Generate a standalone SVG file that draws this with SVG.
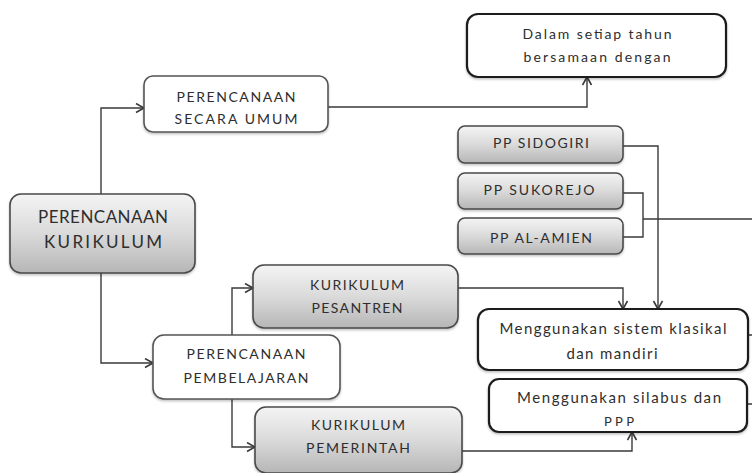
<svg xmlns="http://www.w3.org/2000/svg" width="752" height="473" viewBox="0 0 752 473">
<defs>
<linearGradient id="gray" x1="0" y1="0" x2="0" y2="1">
<stop offset="0" stop-color="#f4f4f4"/>
<stop offset="0.5" stop-color="#dadada"/>
<stop offset="1" stop-color="#b6b6b6"/>
</linearGradient>
<filter id="sh" x="-10%" y="-10%" width="120%" height="130%">
<feDropShadow dx="0" dy="1.5" stdDeviation="1.2" flood-color="#000" flood-opacity="0.25"/>
</filter>
<marker id="arr" markerUnits="userSpaceOnUse" markerWidth="12" markerHeight="12" refX="9" refY="5" orient="auto">
<path d="M1,0.5 L9,5 L1,9.5" fill="none" stroke="#3a3a3a" stroke-width="1.6"/>
</marker>
<clipPath id="clipPPP"><rect x="489" y="379" width="258" height="47"/></clipPath>
</defs>
<style>
.g{fill:url(#gray);stroke:#4a4a4a;stroke-width:1.6;filter:url(#sh)}
.w{fill:#fff;stroke:#555;stroke-width:1.6;filter:url(#sh)}
.wd{fill:#fff;stroke:#1e1e1e;stroke-width:2.2;filter:url(#sh)}
text{font-family:Lato,"Liberation Sans",Arial,sans-serif;fill:#2e2e2e;text-anchor:middle}
.c{fill:none;stroke:#3a3a3a;stroke-width:1.4}
</style>
<rect width="752" height="473" fill="#fff"/>
<g id="connectors">
<path class="c" d="M101,194 V108 H144" marker-end="url(#arr)"/>
<path class="c" d="M328,107 H587 V77" marker-end="url(#arr)"/>
<path class="c" d="M101,273 V363 H153" marker-end="url(#arr)"/>
<path class="c" d="M232,335 V288 H253" marker-end="url(#arr)"/>
<path class="c" d="M232,399 V447 H255" marker-end="url(#arr)"/>
<path class="c" d="M458,288 H623 V309" marker-end="url(#arr)"/>
<path class="c" d="M623,146 H658 V309" marker-end="url(#arr)"/>
<path class="c" d="M623,193 H643 V237 H623 M643,219 H752"/>
<path class="c" d="M462,451 H632 V432" marker-end="url(#arr)"/>
<path class="c" d="M748,335 H752 M747,404 H752"/>
</g>
<g id="n-kurikulum">
<rect class="g" x="10" y="194" width="185" height="79" rx="11"/>
<text x="103" y="223" font-size="17" textLength="130" lengthAdjust="spacing">PERENCANAAN</text>
<text x="103" y="248" font-size="17" textLength="118" lengthAdjust="spacing">KURIKULUM</text>
</g>
<g id="n-umum">
<rect class="w" x="144" y="76" width="184" height="56" rx="9"/>
<text x="236" y="102" font-size="14" textLength="119" lengthAdjust="spacing">PERENCANAAN</text>
<text x="236" y="124" font-size="14" textLength="123" lengthAdjust="spacing">SECARA UMUM</text>
</g>
<g id="n-dalam">
<rect class="wd" x="467" y="14" width="259" height="63" rx="11"/>
<text x="597" y="39" font-size="14" textLength="149" lengthAdjust="spacing">Dalam setiap tahun</text>
<text x="597" y="62" font-size="14" textLength="147" lengthAdjust="spacing">bersamaan dengan</text>
</g>
<g id="n-sidogiri">
<rect class="g" x="458" y="126" width="165" height="37" rx="7"/>
<text x="541" y="148" font-size="14" textLength="96" lengthAdjust="spacing">PP SIDOGIRI</text>
</g>
<g id="n-sukorejo">
<rect class="g" x="458" y="173" width="165" height="36" rx="7"/>
<text x="539" y="195" font-size="14" textLength="111" lengthAdjust="spacing">PP SUKOREJO</text>
</g>
<g id="n-alamien">
<rect class="g" x="458" y="218" width="165" height="36" rx="7"/>
<text x="541" y="243" font-size="14" textLength="102" lengthAdjust="spacing">PP AL-AMIEN</text>
</g>
<g id="n-klasikal">
<rect class="wd" x="478" y="309" width="270" height="61" rx="11"/>
<text x="613" y="334" font-size="15" textLength="227" lengthAdjust="spacing">Menggunakan sistem klasikal</text>
<text x="612" y="359" font-size="15" textLength="91" lengthAdjust="spacing">dan mandiri</text>
</g>
<g id="n-silabus">
<rect class="wd" x="489" y="379" width="258" height="53" rx="10"/>
<text x="619" y="403" font-size="15" textLength="204" lengthAdjust="spacing">Menggunakan silabus dan</text>
<text x="619" y="427" font-size="13" textLength="30" lengthAdjust="spacing" clip-path="url(#clipPPP)">PPP</text>
</g>
<g id="n-pesantren">
<rect class="g" x="253" y="265" width="205" height="63" rx="11"/>
<text x="357" y="290" font-size="14" textLength="94" lengthAdjust="spacing">KURIKULUM</text>
<text x="357" y="313" font-size="14" textLength="91" lengthAdjust="spacing">PESANTREN</text>
</g>
<g id="n-pembelajaran">
<rect class="w" x="153" y="335" width="187" height="64" rx="11"/>
<text x="246" y="359" font-size="14" textLength="119" lengthAdjust="spacing">PERENCANAAN</text>
<text x="246" y="383" font-size="14" textLength="125" lengthAdjust="spacing">PEMBELAJARAN</text>
</g>
<g id="n-pemerintah">
<rect class="g" x="255" y="407" width="207" height="66" rx="11"/>
<text x="358" y="430" font-size="14" textLength="94" lengthAdjust="spacing">KURIKULUM</text>
<text x="358" y="453" font-size="14" textLength="104" lengthAdjust="spacing">PEMERINTAH</text>
</g>
</svg>
